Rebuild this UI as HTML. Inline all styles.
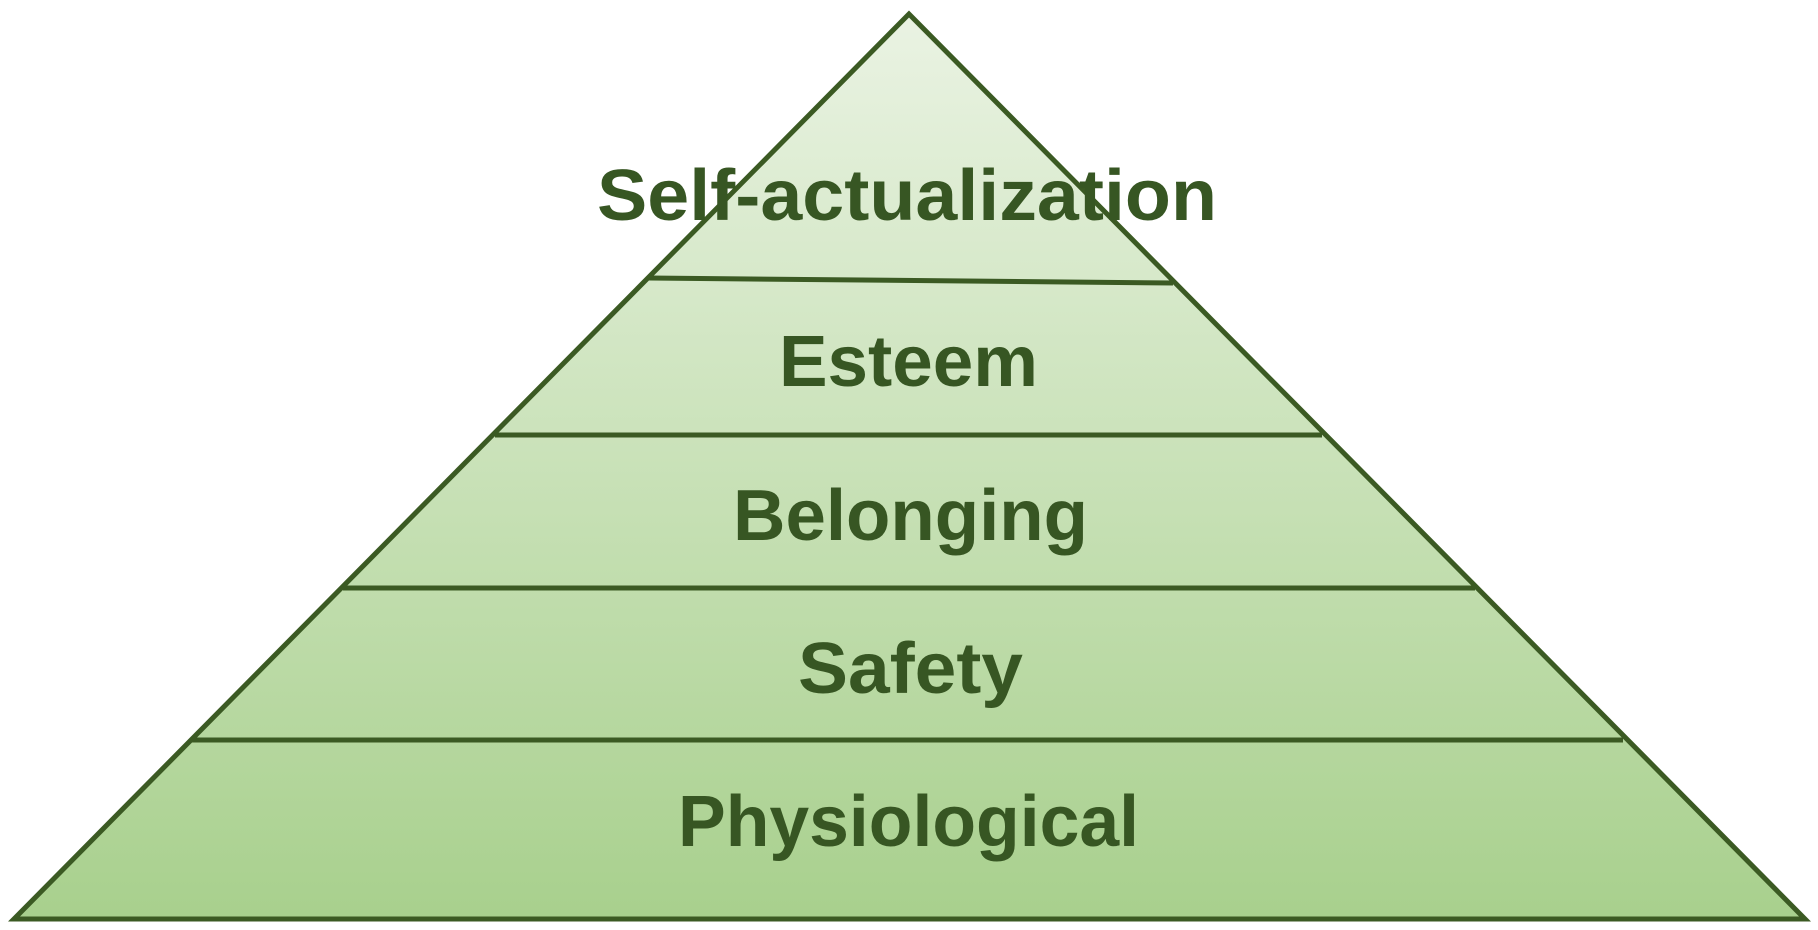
<!DOCTYPE html>
<html><head><meta charset="utf-8"><style>html,body{margin:0;padding:0;background:#fff;width:1818px;height:930px;overflow:hidden}</style></head>
<body>
<svg width="1818" height="930" viewBox="0 0 1818 930" xmlns="http://www.w3.org/2000/svg">
<defs><linearGradient id="g" x1="0" y1="0" x2="0" y2="1">
<stop offset="0" stop-color="#eaf3e3"/><stop offset="1" stop-color="#a8d08d"/></linearGradient></defs>
<polygon points="909,14 14,919 1805,919" fill="url(#g)" stroke="#3b5a23" stroke-width="5" stroke-linejoin="miter"/>
<g stroke="#3b5a23" stroke-width="5">
<line x1="649" y1="278" x2="1173" y2="283"/>
<line x1="495" y1="435" x2="1322" y2="435"/>
<line x1="343" y1="588" x2="1475" y2="588"/>
<line x1="192" y1="740" x2="1623" y2="740"/>
</g>
<g font-family="Liberation Sans, sans-serif" font-weight="bold" font-size="72" fill="#375623">
<text x="597" y="220" textLength="620" lengthAdjust="spacingAndGlyphs">Self-actualization</text>
<text x="779" y="386" textLength="259" lengthAdjust="spacingAndGlyphs">Esteem</text>
<text x="733" y="540" textLength="355" lengthAdjust="spacingAndGlyphs">Belonging</text>
<text x="798" y="693" textLength="225" lengthAdjust="spacingAndGlyphs">Safety</text>
<text x="678" y="846" textLength="461" lengthAdjust="spacingAndGlyphs">Physiological</text>
</g>
</svg>
</body></html>
